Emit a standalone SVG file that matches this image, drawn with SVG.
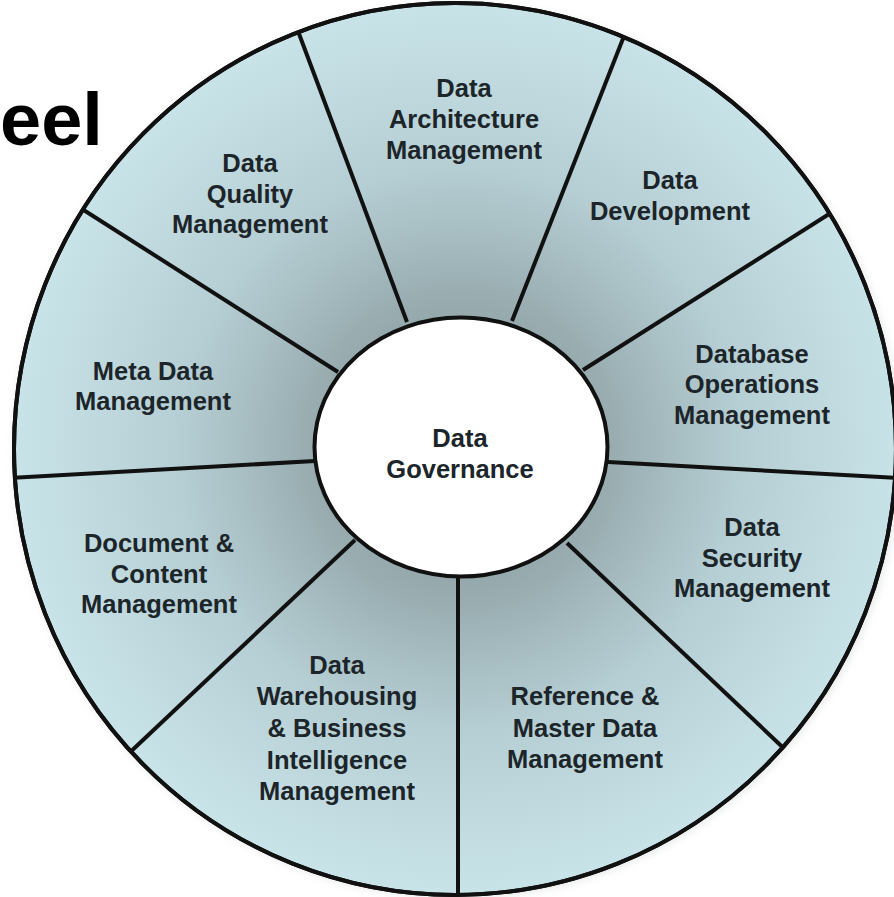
<svg xmlns="http://www.w3.org/2000/svg" width="894" height="897" viewBox="0 0 894 897">
<defs>
<radialGradient id="wheelFill" gradientUnits="userSpaceOnUse" cx="460" cy="448" r="450">
<stop offset="0" stop-color="#7d9094"/>
<stop offset="0.35" stop-color="#9aaeb2"/>
<stop offset="0.62" stop-color="#b5ced3"/>
<stop offset="1" stop-color="#c9e4e9"/>
</radialGradient>
<filter id="soft" x="-10%" y="-10%" width="120%" height="120%">
<feGaussianBlur stdDeviation="4"/>
</filter>
<clipPath id="outerClip">
<ellipse cx="455" cy="449" rx="441" ry="446"/>
</clipPath>
</defs>
<style>
.lbl{font-family:"Liberation Sans",Arial,Helvetica,sans-serif;font-weight:bold;font-size:25.5px;fill:#1c2529;text-anchor:middle}
.title{font-family:"Liberation Sans",Arial,Helvetica,sans-serif;font-weight:bold;font-size:74px;fill:#000;text-anchor:start}
.spoke{stroke:#111;stroke-width:4;fill:none;stroke-linecap:butt}
.ring{stroke:#111;stroke-width:4}
</style>
<rect width="894" height="897" fill="#fff"/>
<text class="title" x="0" y="145">eel</text>
<ellipse cx="457" cy="451" rx="443" ry="447" fill="#d5d9da" opacity="0.6" filter="url(#soft)"/>
<ellipse id="wheel" class="ring" cx="455" cy="449" rx="441" ry="446" fill="url(#wheelFill)"/>
<g id="spokes" clip-path="url(#outerClip)">
<line class="spoke" x1="407" y1="322" x2="298" y2="31"/>
<line class="spoke" x1="512" y1="321" x2="626" y2="31"/>
<line class="spoke" x1="583" y1="370" x2="837" y2="209"/>
<line class="spoke" x1="608" y1="462" x2="900" y2="478"/>
<line class="spoke" x1="567" y1="543" x2="793" y2="757"/>
<line class="spoke" x1="458" y1="577" x2="458" y2="900"/>
<line class="spoke" x1="355" y1="540" x2="125" y2="757"/>
<line class="spoke" x1="315" y1="461" x2="8" y2="478"/>
<line class="spoke" x1="338" y1="372" x2="82" y2="209"/>
</g>
<ellipse class="ring" cx="455" cy="449" rx="441" ry="446" fill="none"/>
<g id="data-governance">
<ellipse class="ring" cx="461" cy="447" rx="146.5" ry="129.5" fill="#fff"/>
<text class="lbl" x="460" y="447">Data</text>
<text class="lbl" x="460" y="478">Governance</text>
</g>
<g id="data-architecture">
<text class="lbl" x="464" y="97">Data</text>
<text class="lbl" x="464" y="128">Architecture</text>
<text class="lbl" x="464" y="159">Management</text>
</g>
<g id="data-development">
<text class="lbl" x="670" y="189">Data</text>
<text class="lbl" x="670" y="220">Development</text>
</g>
<g id="database-operations">
<text class="lbl" x="752" y="363">Database</text>
<text class="lbl" x="752" y="393">Operations</text>
<text class="lbl" x="752" y="424">Management</text>
</g>
<g id="data-security">
<text class="lbl" x="752" y="536">Data</text>
<text class="lbl" x="752" y="567">Security</text>
<text class="lbl" x="752" y="597">Management</text>
</g>
<g id="reference-master-data">
<text class="lbl" x="585" y="705">Reference &amp;</text>
<text class="lbl" x="585" y="737">Master Data</text>
<text class="lbl" x="585" y="768">Management</text>
</g>
<g id="data-warehousing-bi">
<text class="lbl" x="337" y="674">Data</text>
<text class="lbl" x="337" y="705">Warehousing</text>
<text class="lbl" x="337" y="737">&amp; Business</text>
<text class="lbl" x="337" y="769">Intelligence</text>
<text class="lbl" x="337" y="800">Management</text>
</g>
<g id="document-content">
<text class="lbl" x="159" y="552">Document &amp;</text>
<text class="lbl" x="159" y="583">Content</text>
<text class="lbl" x="159" y="613">Management</text>
</g>
<g id="meta-data">
<text class="lbl" x="153" y="380">Meta Data</text>
<text class="lbl" x="153" y="410">Management</text>
</g>
<g id="data-quality">
<text class="lbl" x="250" y="172">Data</text>
<text class="lbl" x="250" y="203">Quality</text>
<text class="lbl" x="250" y="233">Management</text>
</g>
</svg>
